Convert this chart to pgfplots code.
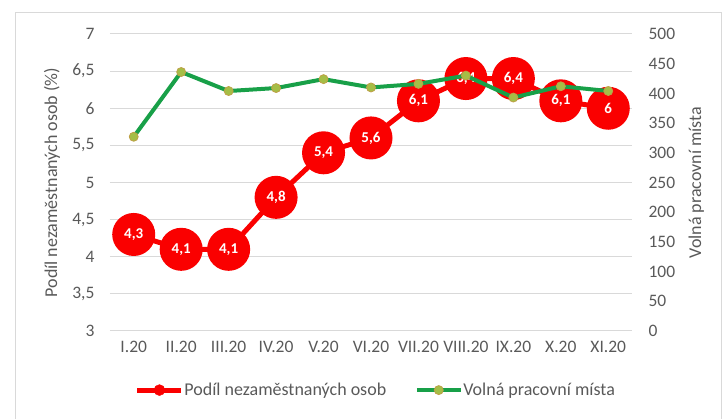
\documentclass[border=0pt]{standalone}
\usepackage{fontspec}
\setmainfont{Carlito}
\usepackage{pgfplots}
\pgfplotsset{compat=1.18}
\definecolor{txt}{RGB}{89,89,89}
\definecolor{gridc}{RGB}{217,217,217}
\definecolor{redc}{RGB}{250,0,0}
\definecolor{greenc}{RGB}{24,160,72}
\definecolor{gmark}{RGB}{165,190,70}
\definecolor{gmarkd}{RGB}{190,160,70}
\begin{document}
\begin{tikzpicture}[x=1pt,y=1pt]
\useasboundingbox (0,0) rectangle (728,419);
\draw[gridc, line width=1pt] (15.5,-5) -- (15.5,406.5) -- (721.5,406.5) -- (721.5,-5);
\pgfplotsset{
  common/.style={
    at={(110pt,88pt)}, anchor=south west, scale only axis,
    width=522pt, height=297pt,
    xmin=-0.5, xmax=10.5,
    axis line style={draw=none}, tick style={draw=none},
    ticklabel style={text=txt, font=\fontsize{17.5}{17.5}\selectfont},
    label style={text=txt, font=\fontsize{18}{18}\selectfont},
    /pgf/number format/assume math mode=true,
    /pgf/number format/use comma,
    clip=false,
  }
}
\begin{axis}[common,
  ymin=3, ymax=7, ytick={3,3.5,...,7},
  ymajorgrids, grid style={gridc, line width=1pt},
  xtick={0,...,10},
  xticklabels={I.20,II.20,III.20,IV.20,V.20,VI.20,VII.20,VIII.20,IX.20,X.20,XI.20},
  xticklabel style={yshift=-7pt},
  yticklabel style={xshift=-12pt},
  ylabel={Podíl nezaměstnaných osob (\%)},
  ylabel style={at={(axis description cs:-0.111,0.5)}, anchor=center},
]
\addplot[redc, line width=5pt, mark=*, mark size=19pt, mark options={fill=redc, draw=redc},
  nodes near coords,
  every node near coord/.append style={anchor=center, text=white,
     font=\bfseries\fontsize{15}{15}\selectfont,
     /pgf/number format/fixed, /pgf/number format/precision=1}]
coordinates {(0,4.3) (1,4.1) (2,4.1) (3,4.8) (4,5.4) (5,5.6) (6,6.1) (7,6.4) (8,6.4) (9,6.1) (10,6.0)};
\end{axis}
\begin{axis}[common,
  ymin=0, ymax=500, ytick={0,50,...,500},
  xtick=\empty,
  yticklabel pos=right,
  yticklabel style={xshift=13pt, anchor=west},
  ylabel={Volná pracovní místa},
  ylabel style={at={(axis description cs:1.123,0.5)}, anchor=center, rotate=0},
  legend columns=2,
  legend style={at={(axis description cs:0.508,-0.199)}, anchor=center, draw=none,
    fill=none, font=\fontsize{18}{18}\selectfont, text=txt,
    nodes={inner sep=0.5pt},
    /tikz/every odd column/.append style={column sep=0pt},
    /tikz/every even column/.append style={column sep=28pt}},
]
\addlegendimage{legend image code/.code={
  \draw[redc, line width=5pt] (0pt,0pt) -- (44pt,0pt);
  \fill[redc] (22pt,0pt) circle (5.5pt);}}
\addlegendentry{Podíl nezaměstnaných osob}
\addplot[greenc, line width=4pt, mark=*, mark size=4.5pt,
  mark options={fill=gmark, draw=gmarkd, line width=0.8pt},
  legend image code/.code={
  \draw[greenc, line width=4pt] (0pt,0pt) -- (44pt,0pt);
  \filldraw[fill=gmark, draw=gmarkd, line width=0.8pt] (22pt,0pt) circle (4.5pt);}]
coordinates {(0,327) (1,436) (2,404) (3,409) (4,424) (5,410) (6,416) (7,430) (8,393) (9,412) (10,404)};
\addlegendentry{Volná pracovní místa}
\end{axis}
\end{tikzpicture}
\end{document}
